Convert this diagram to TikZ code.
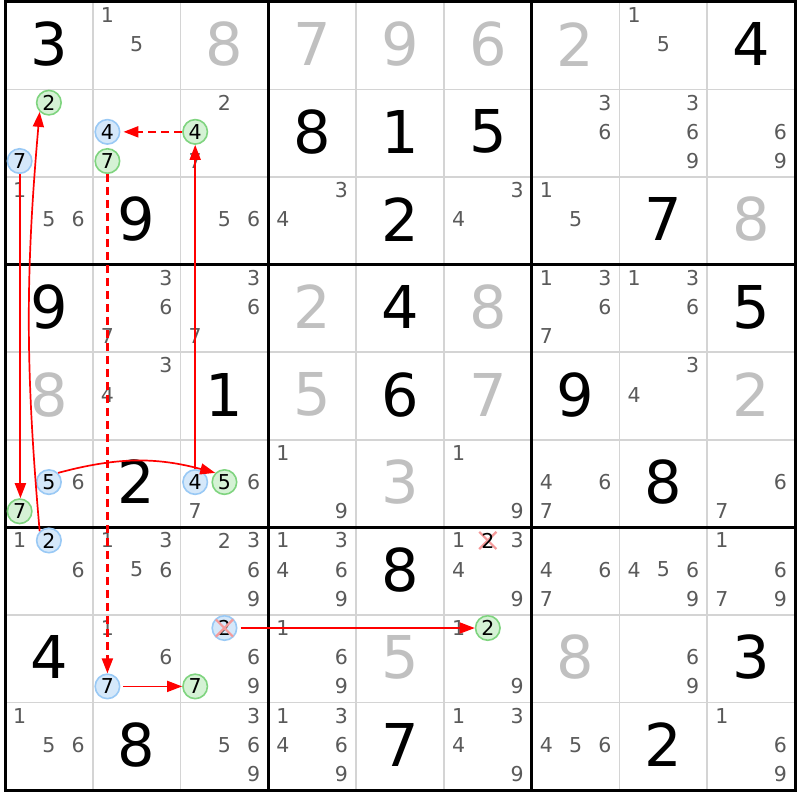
\documentclass[tikz,border=0pt]{standalone}
\usepackage{fontspec}
\setmainfont{DejaVu Sans}
\usetikzlibrary{arrows.meta,shapes.misc}
\definecolor{solvedgray}{HTML}{C0C0C0}
\definecolor{candgray}{HTML}{5A5A5A}
\definecolor{thingray}{HTML}{D4D4D4}
\definecolor{bluefill}{HTML}{D5E8FA}
\definecolor{bluedraw}{HTML}{99C9F5}
\definecolor{greenfill}{HTML}{D5F2D5}
\definecolor{greendraw}{HTML}{7FD47F}
\definecolor{xpink}{HTML}{F59A9A}
\definecolor{linkred}{HTML}{FF0000}
\tikzset{
  given/.style={font=\fontsize{59}{59}\selectfont, text=black, inner sep=0pt},
  solved/.style={given, text=solvedgray},
  cnd/.style={font=\fontsize{20.5}{20.5}\selectfont, text=candgray, inner sep=0pt},
  bcirc/.style={cnd, text=black, circle, draw=bluedraw, fill=bluefill, line width=1.6pt, minimum size=24.5pt},
  gcirc/.style={cnd, text=black, circle, draw=greendraw, fill=greenfill, line width=1.6pt, minimum size=24.5pt},
  xmk/.style={cross out, draw=xpink, line width=2.2pt, minimum size=15pt, inner sep=0pt},
  link/.style={draw=linkred, line width=1.7pt, -{Triangle[length=15pt,width=11pt]}},
  weak/.style={link, dash pattern=on 8pt off 5pt, line width=2.2pt},
  thinline/.style={draw=thingray, line width=1.6pt},
  thickline/.style={draw=black, line width=3pt}
}
\newcommand\candxy[3]{% r c d -> \cx \cy
  \pgfmathsetmacro\cx{5+(#2-1)*87.78+(mod(#3-1,3)+0.5)*29.26}%
  \pgfmathsetmacro\cy{2+(#1-1)*87.56+(floor((#3-1)/3)+0.5)*29.19-1.5}}
\newcommand\cand[4][cnd]{\candxy{#2}{#3}{#4}\node[#1] (k#2#3#4) at (\cx,\cy) {#4};}
\newcommand\cands[3]{\foreach \dd in {#3}{\cand{#1}{#2}{\dd}}}
\newcommand\giv[4][given]{\node[#1] (g#2#3) at ({5+(#3-0.5)*87.78},{2+(#2-0.5)*87.56-1.5}) {#4};}
\begin{document}
\begin{tikzpicture}[x=1pt,y=-1pt]
\useasboundingbox (0,0) rectangle (800,800);
\fill[white] (0,0) rectangle (800,800);
% thin grid
\foreach \i in {1,2,4,5,7,8}{
  \draw[thinline] ({5+\i*87.78},2) -- ({5+\i*87.78},790);
  \draw[thinline] (5,{2+\i*87.56}) -- (795,{2+\i*87.56});
}
\foreach \i in {3,6}{
  \draw[thickline] ({5+\i*87.78},2) -- ({5+\i*87.78},790);
  \draw[thickline] (5,{2+\i*87.56}) -- (795,{2+\i*87.56});
}
\draw[thickline] (5,2) rectangle (795,790);
% givens
\giv{1}{1}{3}\giv{1}{9}{4}
\giv{2}{4}{8}\giv{2}{5}{1}\giv{2}{6}{5}
\giv{3}{2}{9}\giv{3}{5}{2}\giv{3}{8}{7}
\giv{4}{1}{9}\giv{4}{5}{4}\giv{4}{9}{5}
\giv{5}{3}{1}\giv{5}{5}{6}\giv{5}{7}{9}
\giv{6}{2}{2}\giv{6}{8}{8}
\giv{7}{5}{8}
\giv{8}{1}{4}\giv{8}{9}{3}
\giv{9}{2}{8}\giv{9}{5}{7}\giv{9}{8}{2}
% solved
\giv[solved]{1}{3}{8}\giv[solved]{1}{4}{7}\giv[solved]{1}{5}{9}\giv[solved]{1}{6}{6}\giv[solved]{1}{7}{2}
\giv[solved]{3}{9}{8}
\giv[solved]{4}{4}{2}\giv[solved]{4}{6}{8}
\giv[solved]{5}{1}{8}\giv[solved]{5}{4}{5}\giv[solved]{5}{6}{7}\giv[solved]{5}{9}{2}
\giv[solved]{6}{5}{3}
\giv[solved]{8}{5}{5}\giv[solved]{8}{7}{8}
% candidates
\cands{1}{2}{1,5}\cands{1}{8}{1,5}
\cand[gcirc]{2}{1}{2}\cand[bcirc]{2}{1}{7}
\cand[bcirc]{2}{2}{4}\cand[gcirc]{2}{2}{7}
\cands{2}{3}{2,7}\cand[gcirc]{2}{3}{4}
\cands{2}{7}{3,6}\cands{2}{8}{3,6,9}\cands{2}{9}{6,9}
\cands{3}{1}{1,5,6}\cands{3}{3}{5,6}\cands{3}{4}{3,4}\cands{3}{6}{3,4}\cands{3}{7}{1,5}
\cands{4}{2}{3,6,7}\cands{4}{3}{3,6,7}\cands{4}{7}{1,3,6,7}\cands{4}{8}{1,3,6}
\cands{5}{2}{3,4}\cands{5}{8}{3,4}
\cand[bcirc]{6}{1}{5}\cand{6}{1}{6}\cand[gcirc]{6}{1}{7}
\cand[bcirc]{6}{3}{4}\cand[gcirc]{6}{3}{5}\cands{6}{3}{6,7}
\cands{6}{4}{1,9}\cands{6}{6}{1,9}\cands{6}{7}{4,6,7}\cands{6}{9}{6,7}
\cands{7}{1}{1,6}\cand[bcirc]{7}{1}{2}
\cands{7}{2}{1,3,5,6}\cands{7}{3}{2,3,6,9}\cands{7}{4}{1,3,4,6,9}
\candxy{7}{6}{2}\node[xmk] (x762) at (\cx,\cy) {};
\cands{7}{6}{1,3,4,9}\cand[cnd,text=black]{7}{6}{2}
\cands{7}{7}{4,6,7}\cands{7}{8}{4,5,6,9}\cands{7}{9}{1,6,7,9}
\cands{8}{2}{1,6}\cand[bcirc]{8}{2}{7}
\cand[bcirc]{8}{3}{2}\candxy{8}{3}{2}\node[xmk] (x832) at (\cx,\cy) {};
\cands{8}{3}{6,9}\cand[gcirc]{8}{3}{7}
\cands{8}{4}{1,6,9}\cands{8}{6}{1,9}\cand[gcirc]{8}{6}{2}\cands{8}{8}{6,9}
\cands{9}{1}{1,5,6}\cands{9}{3}{3,5,6,9}\cands{9}{4}{1,3,4,6,9}\cands{9}{6}{1,3,4,9}
\cands{9}{7}{4,5,6}\cands{9}{9}{1,6,9}
% links
\draw[link] (k712.135) to[bend left=5] (k212.225);
\draw[link, line width=2pt, transform canvas={xshift=0.8pt}] (k217) -- (k617);
\draw[weak, shorten >=3pt] (k234) -- (k224);
\draw[weak] (k227) -- (k827);
\draw[link, shorten <=3pt] (k827) -- (k837);
\draw[link] (k634) -- (k234);
\draw[link] (k615.45) to[bend left=15] (k635.135);
\draw[link, shorten <=3pt] (k832) -- (k862);
\end{tikzpicture}
\end{document}
